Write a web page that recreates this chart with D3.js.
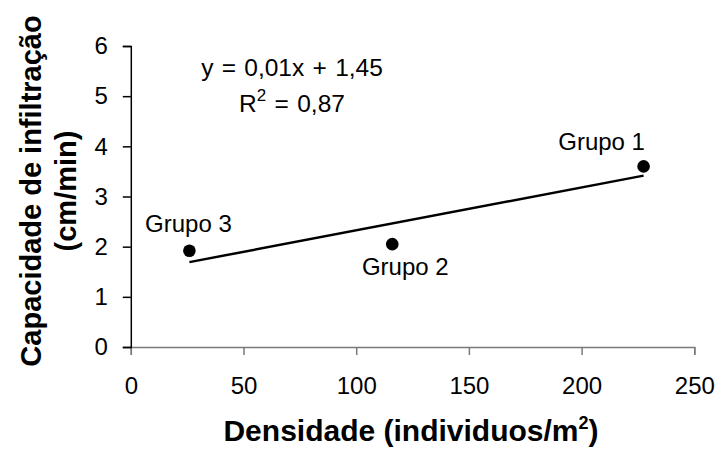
<!DOCTYPE html>
<html>
<head>
<meta charset="utf-8">
<script src="https://cdn.jsdelivr.net/npm/d3@7"></script>
<style>
  body { margin: 0; background: #fff; }
  svg { font-family: "Liberation Sans", Arial, sans-serif; }
</style>
</head>
<body>
<svg id="svg" width="721" height="458"></svg>
<script>
// dados
const grupos = ["Grupo 1", "Grupo 2", "Grupo 3"];
const densidade = [227.5, 116, 26];
const capacidade = [3.60, 2.05, 1.92];
const xTicks = [0, 50, 100, 150, 200, 250];
const yTicks = [0, 1, 2, 3, 4, 5, 6];
const equacao = "y = 0,01x + 1,45";
const r2 = "0,87";

const svg = d3.select("#svg");
const x = d3.scaleLinear().domain([0, 250]).range([130.8, 694.3]);
const y = d3.scaleLinear().domain([0, 6]).range([347, 46]);

// eixo x
const gx = svg.append("g").attr("transform", "translate(0," + y(0) + ")")
  .call(d3.axisBottom(x).tickValues(xTicks).tickSize(8).tickPadding(22).tickFormat(d3.format("d")));
gx.select(".domain").attr("stroke", "#7a7a7a").attr("stroke-width", 1.5);
gx.selectAll(".tick line").attr("stroke", "#7a7a7a").attr("stroke-width", 1.5);
gx.selectAll(".tick text").attr("font-size", 24).attr("fill", "#000")
  .attr("font-family", "Liberation Sans, Arial, sans-serif");

// eixo y
const gy = svg.append("g").attr("transform", "translate(" + x(0) + ",0)")
  .call(d3.axisLeft(y).tickValues(yTicks).tickSize(8).tickPadding(15).tickFormat(d3.format("d")));
gy.select(".domain").attr("stroke", "#000").attr("stroke-width", 1.5);
gy.selectAll(".tick line").attr("stroke", "#000").attr("stroke-width", 1.5);
gy.selectAll(".tick text").attr("font-size", 24).attr("fill", "#000")
  .attr("font-family", "Liberation Sans, Arial, sans-serif");

// linha de tendencia (minimos quadrados)
const n = densidade.length;
const mx = d3.mean(densidade), my = d3.mean(capacidade);
let sxy = 0, sxx = 0;
for (let i = 0; i < n; i++) {
  sxy += (densidade[i] - mx) * (capacidade[i] - my);
  sxx += (densidade[i] - mx) * (densidade[i] - mx);
}
const b = sxy / sxx, a = my - b * mx;
const ext = d3.extent(densidade);
svg.append("line")
  .attr("x1", x(ext[0])).attr("y1", y(a + b * ext[0]))
  .attr("x2", x(ext[1])).attr("y2", y(a + b * ext[1]))
  .attr("stroke", "#000").attr("stroke-width", 2.5);

// pontos
svg.selectAll("circle.pt").data(grupos).enter().append("circle")
  .attr("class", "pt")
  .attr("cx", (d, i) => x(densidade[i]))
  .attr("cy", (d, i) => y(capacidade[i]))
  .attr("r", 6.3)
  .attr("fill", "#000");

// rotulos dos grupos
const desloc = { "Grupo 1": [-42, -16], "Grupo 2": [13, 31], "Grupo 3": [-1, -19] };
svg.selectAll("text.rot").data(grupos).enter().append("text")
  .attr("class", "rot")
  .attr("x", (d, i) => x(densidade[i]) + desloc[d][0])
  .attr("y", (d, i) => y(capacidade[i]) + desloc[d][1])
  .attr("text-anchor", "middle")
  .attr("font-size", 24)
  .text(d => d);

// equacao
svg.append("text").attr("x", 292).attr("y", 76).attr("text-anchor", "middle")
  .attr("font-size", 24.5).attr("word-spacing", 1.5).text(equacao);
const tr = svg.append("text").attr("x", 292).attr("y", 112).attr("text-anchor", "middle")
  .attr("font-size", 24.5).attr("word-spacing", 1.5);
tr.append("tspan").text("R");
tr.append("tspan").attr("font-size", 17).attr("dy", -11).text("2");
tr.append("tspan").attr("dy", 11).text(" = " + r2);

// titulos dos eixos
const tx = svg.append("text").attr("x", 411).attr("y", 441).attr("text-anchor", "middle")
  .attr("font-size", 30).attr("font-weight", "bold");
tx.append("tspan").text("Densidade (individuos/m");
tx.append("tspan").attr("font-size", 18).attr("dy", -12).text("2");
tx.append("tspan").attr("dy", 12).text(")");

const ty = svg.append("g").attr("transform", "translate(0,191) rotate(-90)");
ty.append("text").attr("x", 0).attr("y", 41).attr("text-anchor", "middle")
  .attr("font-size", 29).attr("font-weight", "bold").text("Capacidade de infiltração");
ty.append("text").attr("x", 0).attr("y", 76).attr("text-anchor", "middle")
  .attr("font-size", 29).attr("font-weight", "bold").text("(cm/min)");
</script>
</body>
</html>
